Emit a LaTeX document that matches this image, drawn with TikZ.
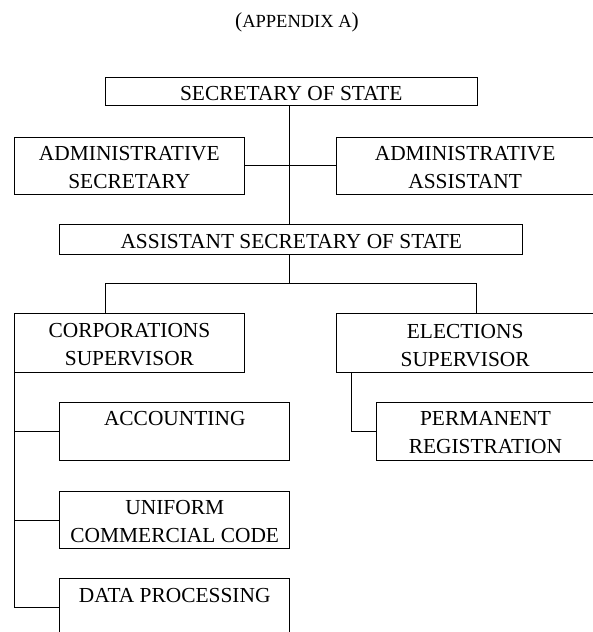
\documentclass[tikz,border=0pt]{standalone}
\usepackage{fontspec}
\setmainfont{Liberation Serif}
\begin{document}
\begin{tikzpicture}[x=1pt,y=-1pt,line width=0.9pt,
  box/.style={draw,rectangle,inner sep=0pt,anchor=north west},
  lbl/.style={anchor=base,align=center,inner sep=0pt,font=\fontsize{21.4}{28}\selectfont},
  conn/.style={draw,line width=0.9pt}]
\useasboundingbox (0,0) rectangle (592,632);
% title
\node[anchor=base,inner sep=0pt] (title) at (297,27) {\fontsize{21.4}{26}\selectfont(\fontsize{18.5}{26}\selectfont APPENDIX A\fontsize{21.4}{26}\selectfont)};
% boxes
\node[box,minimum width=371.7pt,minimum height=28pt] (sos) at (105,77.3) {};
\node[box,minimum width=229.7pt,minimum height=57.5pt] (adsec) at (14,136.5) {};
\node[box,minimum width=258pt,minimum height=57.5pt] (adasst) at (335.7,136.5) {};
\node[box,minimum width=463pt,minimum height=30pt] (asos) at (59.3,224.3) {};
\node[box,minimum width=229.4pt,minimum height=59.6pt] (corp) at (14.3,312.7) {};
\node[box,minimum width=258pt,minimum height=59.3pt] (elec) at (335.7,313) {};
\node[box,minimum width=230pt,minimum height=58.3pt] (acc) at (59.3,401.7) {};
\node[box,minimum width=218pt,minimum height=58.3pt] (perm) at (376,401.7) {};
\node[box,minimum width=230pt,minimum height=57.6pt] (ucc) at (59.3,490.7) {};
\node[box,minimum width=230pt,minimum height=58pt] (dp) at (59.3,578.3) {};
% labels (base anchor = baseline of the last line)
\node[lbl] (sos-t) at ([yshift=-23.5pt]sos.north) {SECRETARY OF STATE};
\node[lbl] (adsec-t) at ([yshift=-52pt]adsec.north) {ADMINISTRATIVE\\SECRETARY};
\node[lbl] (adasst-t) at ([yshift=-52pt]adasst.north) {ADMINISTRATIVE\\ASSISTANT};
\node[lbl] (asos-t) at ([yshift=-24pt]asos.north) {ASSISTANT SECRETARY OF STATE};
\node[lbl] (corp-t) at ([yshift=-53pt]corp.north) {CORPORATIONS\\SUPERVISOR};
\node[lbl] (elec-t) at ([yshift=-53pt]elec.north) {ELECTIONS\\SUPERVISOR};
\node[lbl] (acc-t) at ([yshift=-24pt]acc.north) {ACCOUNTING};
\node[lbl] (perm-t) at ([yshift=-52pt]perm.north) {PERMANENT\\REGISTRATION};
\node[lbl] (ucc-t) at ([yshift=-52pt]ucc.north) {UNIFORM\\COMMERCIAL CODE};
\node[lbl] (dp-t) at ([yshift=-24pt]dp.north) {DATA PROCESSING};
% connector coordinates
\coordinate (tk) at (289.3,0);
\coordinate (bl) at (105.3,283.3);
\coordinate (brr) at (476.3,283.3);
\coordinate (ev) at (351.7,0);
% connectors
\draw[conn] (tk |- sos.south) -- (tk |- asos.north);
\draw[conn] (adsec.east) -- (adasst.east -| adasst.west);
\draw[conn] (tk |- asos.south) -- (tk |- bl);
\draw[conn] (bl |- corp.north) -- (bl) -- (brr) -- (brr |- elec.north);
\draw[conn] (corp.south west) -- (corp.south west |- dp.west) -- (dp.west);
\draw[conn] (corp.south west |- acc.west) -- (acc.west);
\draw[conn] (corp.south west |- ucc.west) -- (ucc.west);
\draw[conn] (ev |- elec.south) -- (ev |- perm.west) -- (perm.west);
\end{tikzpicture}
\end{document}
